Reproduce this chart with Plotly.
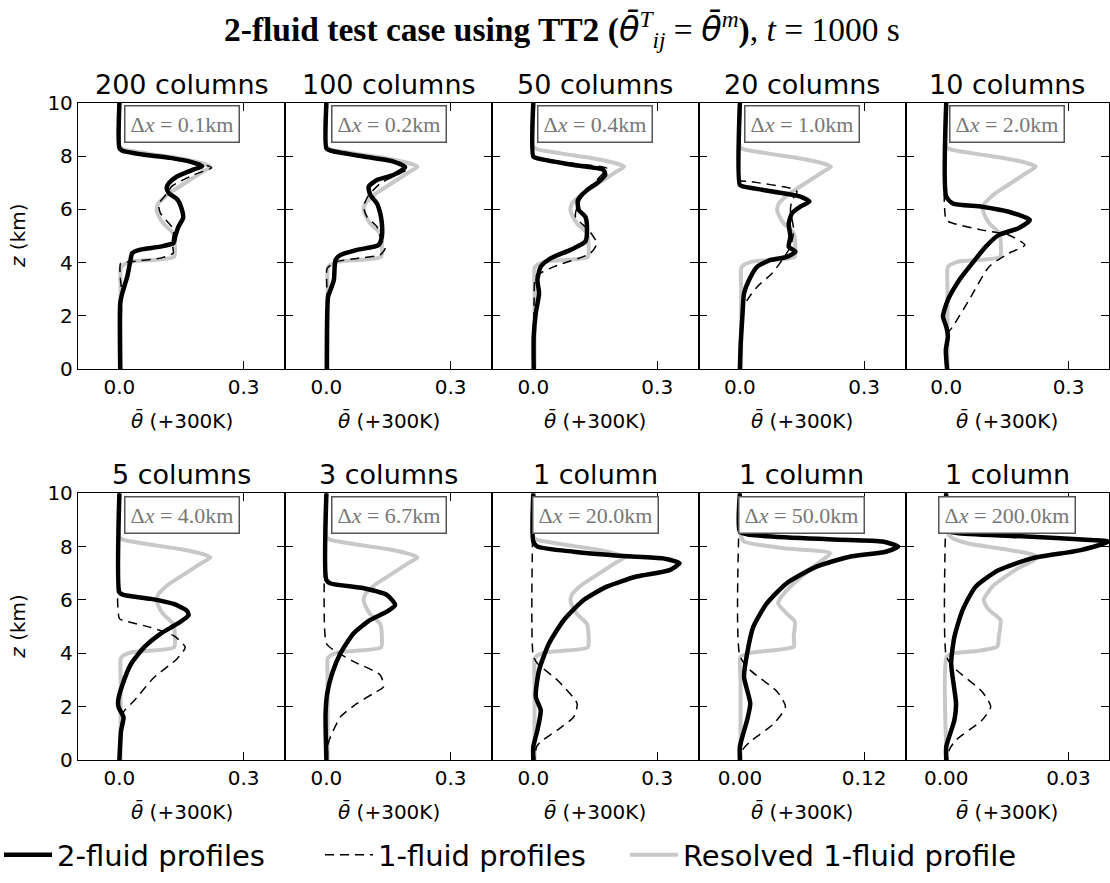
import plotly.graph_objects as go

W, H = 1110, 883

# ---------------- labels / axes ----------------
panel_titles = ["200 columns", "100 columns", "50 columns", "20 columns", "10 columns",
                "5 columns", "3 columns", "1 column", "1 column", "1 column"]
dx_labels = ["0.1", "0.2", "0.4", "1.0", "2.0", "4.0", "6.7", "20.0", "50.0", "200.0"]
x_ranges = [[-0.1, 0.4]] * 8 + [[-0.04, 0.16], [-0.01, 0.04]]
x_tickvals = [[0, 0.3]] * 8 + [[0, 0.12], [0, 0.03]]
x_ticktext = [["0.0", "0.3"]] * 8 + [["0.00", "0.12"], ["0.00", "0.03"]]
y_tickvals = [0, 2, 4, 6, 8, 10]

# ---------------- resolved 1-fluid profile (grey) ----------------
z_res = [10, 8.35, 8.25, 8.1, 7.91, 7.75, 7.6, 7.4, 7.1, 6.8, 6.6, 6.4, 6.22, 5.97, 5.75,
         5.47, 5.1, 4.6, 4.22, 4.04, 3.9, 3.79, 3.0, 0]
th_res = [0, 0, 0.01, 0.066, 0.146, 0.195, 0.22, 0.2, 0.17, 0.14, 0.12, 0.105, 0.094, 0.09,
          0.095, 0.106, 0.13, 0.134, 0.132, 0.03, 0.008, 0.003, 0.003, 0.003]
z_res_50 = [10, 8.6, 8.35, 8.19, 7.94, 7.75, 7.25, 6.62, 6.06, 5.87, 5.5, 5.19, 4.62, 4.25,
            4.02, 3.87, 3.0, 0]
th_res_50 = [0, 0, 0.0015, 0.004, 0.042, 0.087, 0.071, 0.052, 0.039, 0.037, 0.045, 0.053,
             0.052, 0.052, 0.01, 0.0006, 0.0006, 0.0006]
z_res_200 = [10, 8.55, 8.31, 8.1, 7.94, 7.62, 7.12, 6.5, 6.0, 5.62, 5.25, 4.62, 4.25, 4.1,
             4.0, 3.87, 0]
th_res_200 = [0, 0.0002, 0.0016, 0.006, 0.0129, 0.0225, 0.0169, 0.0113, 0.0092, 0.0105,
              0.0133, 0.0129, 0.0125, 0.008, 0.0016, 0.0001, 0.0001]

# ---------------- 2-fluid (black) and 1-fluid (dashed) profiles ----------------
z_2f_200 = [10, 8.3, 8.2, 8.05, 7.93, 7.77, 7.62, 7.5, 7.24, 6.99, 6.8, 6.6, 6.37, 5.99, 5.68,
            5.36, 4.99, 4.74, 4.6, 4.49, 4.36, 4.11, 3.48, 2.86, 2.48, 0]
th_2f_200 = [0, 0, 0.007, 0.06, 0.123, 0.175, 0.2, 0.18, 0.14, 0.12, 0.114, 0.12, 0.14, 0.151,
             0.154, 0.143, 0.135, 0.131, 0.099, 0.051, 0.031, 0.027, 0.019, 0.007, 0.002, 0.002]
z_1f_200 = [10, 8.3, 8.2, 8.05, 7.9, 7.75, 7.56, 7.3, 6.87, 6.6, 6.2, 5.86, 5.55, 5.24, 4.74,
            4.36, 4.17, 4.04, 3.98, 3.48, 3.0, 0]
th_1f_200 = [0, 0, 0.008, 0.065, 0.135, 0.19, 0.223, 0.18, 0.127, 0.115, 0.095, 0.099, 0.115,
             0.131, 0.127, 0.13, 0.099, 0.031, 0.003, 0.002, 0.005, 0.002]

z_2f_100 = [10, 8.29, 8.2, 7.98, 7.79, 7.58, 7.29, 7.1, 6.85, 6.54, 6.22, 5.85, 5.47, 4.98,
            4.66, 4.48, 4.29, 4.1, 3.35, 2.98, 2.72, 0]
th_2f_100 = [0, 0, 0.01, 0.09, 0.162, 0.19, 0.162, 0.122, 0.102, 0.106, 0.122, 0.13, 0.134,
             0.134, 0.126, 0.074, 0.034, 0.022, 0.018, 0.01, 0.004, 0.001]
z_1f_100 = [10, 8.29, 8.2, 7.98, 7.79, 7.54, 7.25, 6.97, 6.48, 6.1, 5.72, 5.35, 4.98, 4.54,
            4.29, 4.16, 4.04, 3.79, 3.1, 0]
th_1f_100 = [0, 0, 0.01, 0.095, 0.17, 0.198, 0.165, 0.13, 0.1, 0.09, 0.098, 0.122, 0.13, 0.142,
             0.13, 0.074, 0.026, 0.002, 0.001, 0.001]

z_2f_50 = [10, 7.98, 7.91, 7.66, 7.48, 7.29, 6.98, 6.72, 6.35, 5.98, 5.72, 5.35, 4.79, 4.48,
           4.16, 3.85, 3.35, 2.85, 2.1, 1.23, 0]
th_2f_50 = [0, 0, 0.01, 0.098, 0.17, 0.174, 0.154, 0.13, 0.108, 0.11, 0.126, 0.13, 0.126, 0.09,
            0.042, 0.018, 0.01, 0.014, 0.006, 0.001, 0.001]
z_1f_50 = [10, 7.98, 7.91, 7.7, 7.54, 7.2, 6.8, 6.4, 6.1, 5.72, 5.22, 4.72, 4.35, 3.85, 3.48,
           2.6, 0]
th_1f_50 = [0, 0, 0.012, 0.11, 0.178, 0.16, 0.135, 0.115, 0.106, 0.102, 0.134, 0.154, 0.138,
            0.05, 0.006, 0.002, 0.002]

z_2f_20 = [10, 6.91, 6.85, 6.66, 6.48, 6.29, 6.1, 5.85, 5.47, 4.98, 4.6, 4.41, 4.22, 4.1, 3.85,
           3.35, 2.85, 1.98, 0.98, 0]
th_2f_20 = [0, 0, 0.01, 0.082, 0.146, 0.168, 0.146, 0.126, 0.118, 0.122, 0.118, 0.134, 0.114,
            0.074, 0.042, 0.022, 0.01, 0.006, 0.002, 0]
z_1f_20 = [10, 7.1, 7.04, 6.79, 6.66, 6.35, 5.98, 5.22, 4.6, 4.1, 3.6, 3.1, 2.6, 2.1, 1.5, 0]
th_1f_20 = [0, 0, 0.026, 0.122, 0.138, 0.126, 0.122, 0.13, 0.122, 0.102, 0.078, 0.042, 0.018,
            0.006, 0.002, 0.001]

z_2f_10 = [10, 6.48, 6.22, 6.1, 5.91, 5.6, 5.29, 5.04, 4.6, 3.98, 3.35, 2.6, 1.98, 1.6, 1.23,
           0.73, 0]
th_2f_10 = [0, 0, 0.016, 0.088, 0.153, 0.205, 0.177, 0.129, 0.097, 0.064, 0.032, 0.004, -0.008,
            0.0, 0.004, -0.001, 0.002]
z_1f_10 = [10, 5.6, 5.48, 5.22, 5.04, 4.66, 4.35, 3.85, 2.6, 1.6, 1.35, 0]
th_1f_10 = [0, 0, 0.016, 0.088, 0.153, 0.193, 0.153, 0.105, 0.056, 0.016, 0.004, 0.002]

z_2f_5 = [10, 6.29, 6.2, 6.04, 5.85, 5.6, 5.42, 5.1, 4.73, 4.23, 3.6, 2.85, 2.23, 1.98, 1.6,
          1.1, 0]
th_2f_5 = [0, 0, 0.008, 0.076, 0.131, 0.163, 0.167, 0.139, 0.099, 0.06, 0.028, 0.008, -0.003,
           -0.002, 0.01, 0.004, 0]
z_1f_5 = [10, 5.3, 5.22, 4.97, 4.66, 4.23, 3.79, 3.1, 2.23, 1.85, 1.6, 0]
th_1f_5 = [0, 0, 0.012, 0.076, 0.131, 0.159, 0.139, 0.084, 0.036, 0.012, 0.006, 0.002]

z_2f_3 = [10, 6.75, 6.62, 6.44, 6.19, 5.81, 5.56, 5.25, 4.75, 4.0, 3.25, 2.5, 1.75, 0]
th_2f_3 = [0, 0, 0.01, 0.09, 0.146, 0.166, 0.146, 0.106, 0.066, 0.034, 0.014, 0.002, -0.002, 0]
z_1f_3 = [10, 4.37, 4.12, 3.69, 3.19, 2.75, 2.5, 2.12, 1.62, 0.87, 0.6, 0]
th_1f_3 = [0, 0, 0.018, 0.066, 0.13, 0.138, 0.114, 0.074, 0.034, 0.01, 0.004, 0.002]

z_2f_1a = [10, 8.19, 8.0, 7.81, 7.65, 7.56, 7.38, 7.12, 6.88, 6.5, 6.0, 5.25, 4.37, 3.37, 2.37,
           1.87, 1.12, 0.5, 0]
th_2f_1a = [0, 0, 0.01, 0.098, 0.218, 0.314, 0.354, 0.33, 0.25, 0.178, 0.122, 0.074, 0.038,
            0.014, 0.006, 0.018, 0.01, 0, 0]
z_1f_1a = [10, 3.9, 3.62, 3.0, 2.12, 1.62, 1.12, 0.69, 0.5, 0]
th_1f_1a = [0, 0, 0.01, 0.058, 0.106, 0.098, 0.058, 0.018, 0.008, 0.003]

z_2f_1b = [10, 8.56, 8.44, 8.27, 8.19, 8.0, 7.81, 7.62, 7.25, 6.62, 5.87, 5.0, 4.0, 3.12, 2.12,
           1.5, 0.5, 0]
th_2f_1b = [0, 0, 0.01, 0.09, 0.138, 0.153, 0.141, 0.106, 0.074, 0.045, 0.026, 0.013, 0.007,
            0.004, 0.01, 0.007, 0, 0]
z_1f_1b = [10, 3.9, 3.37, 2.56, 2.0, 1.37, 0.69, 0.4, 0]
th_1f_1b = [0, 0, 0.01, 0.036, 0.044, 0.033, 0.01, 0.003, 0.001]

z_2f_1c = [10, 8.62, 8.5, 8.37, 8.25, 8.19, 7.87, 7.56, 7.12, 6.5, 5.62, 4.62, 3.62, 2.12, 1.5,
           0.5, 0]
th_2f_1c = [0, 0, 0.0032, 0.021, 0.0354, 0.0398, 0.033, 0.021, 0.0129, 0.0072, 0.004, 0.002,
            0.0012, 0.0024, 0.002, 0, 0]
z_1f_1c = [10, 3.9, 3.5, 2.56, 2.0, 1.5, 0.75, 0.4, 0]
th_1f_1c = [0, 0, 0.0016, 0.0088, 0.0109, 0.0088, 0.0024, 0.0008, 0.0003]

panels = [
    (z_2f_200, th_2f_200, z_1f_200, th_1f_200, z_res, th_res),
    (z_2f_100, th_2f_100, z_1f_100, th_1f_100, z_res, th_res),
    (z_2f_50, th_2f_50, z_1f_50, th_1f_50, z_res, th_res),
    (z_2f_20, th_2f_20, z_1f_20, th_1f_20, z_res, th_res),
    (z_2f_10, th_2f_10, z_1f_10, th_1f_10, z_res, th_res),
    (z_2f_5, th_2f_5, z_1f_5, th_1f_5, z_res, th_res),
    (z_2f_3, th_2f_3, z_1f_3, th_1f_3, z_res, th_res),
    (z_2f_1a, th_2f_1a, z_1f_1a, th_1f_1a, z_res, th_res),
    (z_2f_1b, th_2f_1b, z_1f_1b, th_1f_1b, z_res_50, th_res_50),
    (z_2f_1c, th_2f_1c, z_1f_1c, th_1f_1c, z_res_200, th_res_200),
]

# ---------------- geometry (pixels) ----------------
col_px = [(78, 285), (285, 492), (492, 698.5), (698.5, 905.5), (905.5, 1109.3)]
row_px = [(102.7, 369.3), (493.3, 760)]


def px_x(p):
    return p / W


def px_y(p):
    return 1 - p / H


fig = go.Figure()
SANS = "DejaVu Sans"
annotations = []

for i in range(10):
    r, c = divmod(i, 5)
    n = "" if i == 0 else str(i + 1)
    xa, ya = "x" + n, "y" + n
    z2, t2, z1, t1, zr, tr = panels[i]
    smooth = dict(shape="spline", smoothing=0.6)
    fig.add_trace(go.Scatter(x=tr, y=zr, mode="lines", xaxis=xa, yaxis=ya,
                             line=dict(color="#c8c8c8", width=4, **smooth),
                             name="Resolved 1-fluid profile", legend="legend3",
                             showlegend=(i == 0), hoverinfo="skip"))
    fig.add_trace(go.Scatter(x=t1, y=z1, mode="lines", xaxis=xa, yaxis=ya,
                             line=dict(color="black", width=1.5, dash="9px,6px", **smooth),
                             name="1-fluid profiles", legend="legend2",
                             showlegend=(i == 0), hoverinfo="skip"))
    fig.add_trace(go.Scatter(x=t2, y=z2, mode="lines", xaxis=xa, yaxis=ya,
                             line=dict(color="black", width=4.5, **smooth),
                             name="2-fluid profiles", legend="legend",
                             showlegend=(i == 0), hoverinfo="skip"))

    x0, x1 = col_px[c]
    y0, y1 = row_px[r]
    axis_common = dict(showline=True, linecolor="black", linewidth=1.3, mirror="ticks",
                       ticks="inside", ticklen=8, tickwidth=1.2, tickcolor="black",
                       showgrid=False, zeroline=False, fixedrange=True, automargin=False,
                       tickfont=dict(family=SANS, size=20, color="black"))
    fig.layout["xaxis" + n] = dict(domain=[px_x(x0), px_x(x1)], anchor=ya,
                                   range=x_ranges[i], tickvals=x_tickvals[i],
                                   ticktext=x_ticktext[i], **axis_common)
    fig.layout["yaxis" + n] = dict(domain=[px_y(y1), px_y(y0)], anchor=xa,
                                   range=[0, 10], tickvals=y_tickvals,
                                   showticklabels=(c == 0), **axis_common)

    xc = px_x((x0 + x1) / 2)
    # panel title
    annotations.append(dict(text=panel_titles[i], x=xc, y=px_y(y0 - 18.5), xref="paper",
                            yref="paper", showarrow=False, xanchor="center", yanchor="middle",
                            font=dict(family=SANS, size=27, color="black")))
    # delta-x box
    annotations.append(dict(text="Δ<i>x</i> = " + dx_labels[i] + "km", x=xc,
                            y=px_y(y0 + 21.5),
                            xref="paper", yref="paper", showarrow=False, xanchor="center",
                            yanchor="middle", bgcolor="white", bordercolor="#555",
                            borderwidth=1.5, borderpad=5,
                            font=dict(family="Liberation Serif", size=22, color="#777777")))
    # x label
    annotations.append(dict(text="<i>θ̄</i> (+300K)",
                            x=xc, y=px_y(y1 + 51), xref="paper",
                            yref="paper", showarrow=False, xanchor="center", yanchor="middle",
                            font=dict(family=SANS, size=20, color="black")))
    if c == 0:
        annotations.append(dict(text="<i>z</i> (km)",
                                x=px_x(18), y=px_y((y0 + y1) / 2),
                                xref="paper", yref="paper", showarrow=False, textangle=-90,
                                xanchor="center", yanchor="middle",
                                font=dict(family=SANS, size=20, color="black")))

annotations.append(dict(
    text="<b>2-fluid test case using TT2 (</b>"
         "<span style='font-family:DejaVu Sans'><i>θ̄</i></span>"
         "<sup><i>T</i></sup><sub><i>ij</i></sub>"
         " = <span style='font-family:DejaVu Sans'><i>θ̄</i></span><sup><i>m</i></sup>"
         "<b>)</b>, <i>t</i> = 1000 s",
    x=px_x(562), y=px_y(29), xref="paper", yref="paper", showarrow=False,
    xanchor="center", yanchor="middle",
    font=dict(family="Liberation Serif", size=33.5, color="black")))

legend_common = dict(orientation="h", xanchor="left", y=px_y(855), yanchor="middle",
                     font=dict(family=SANS, size=29, color="black"), itemwidth=48,
                     bgcolor="rgba(0,0,0,0)")

fig.update_layout(
    width=W, height=H,
    margin=dict(l=0, r=0, t=0, b=0, autoexpand=False),
    paper_bgcolor="white", plot_bgcolor="white",
    annotations=annotations,
    legend=dict(x=px_x(-1), **legend_common),
    legend2=dict(x=px_x(320), **legend_common),
    legend3=dict(x=px_x(625), **legend_common),
)

fig.write_html("out.html", config={"displayModeBar": False},
               post_script="document.body.style.margin='0';document.body.style.padding='0';")
